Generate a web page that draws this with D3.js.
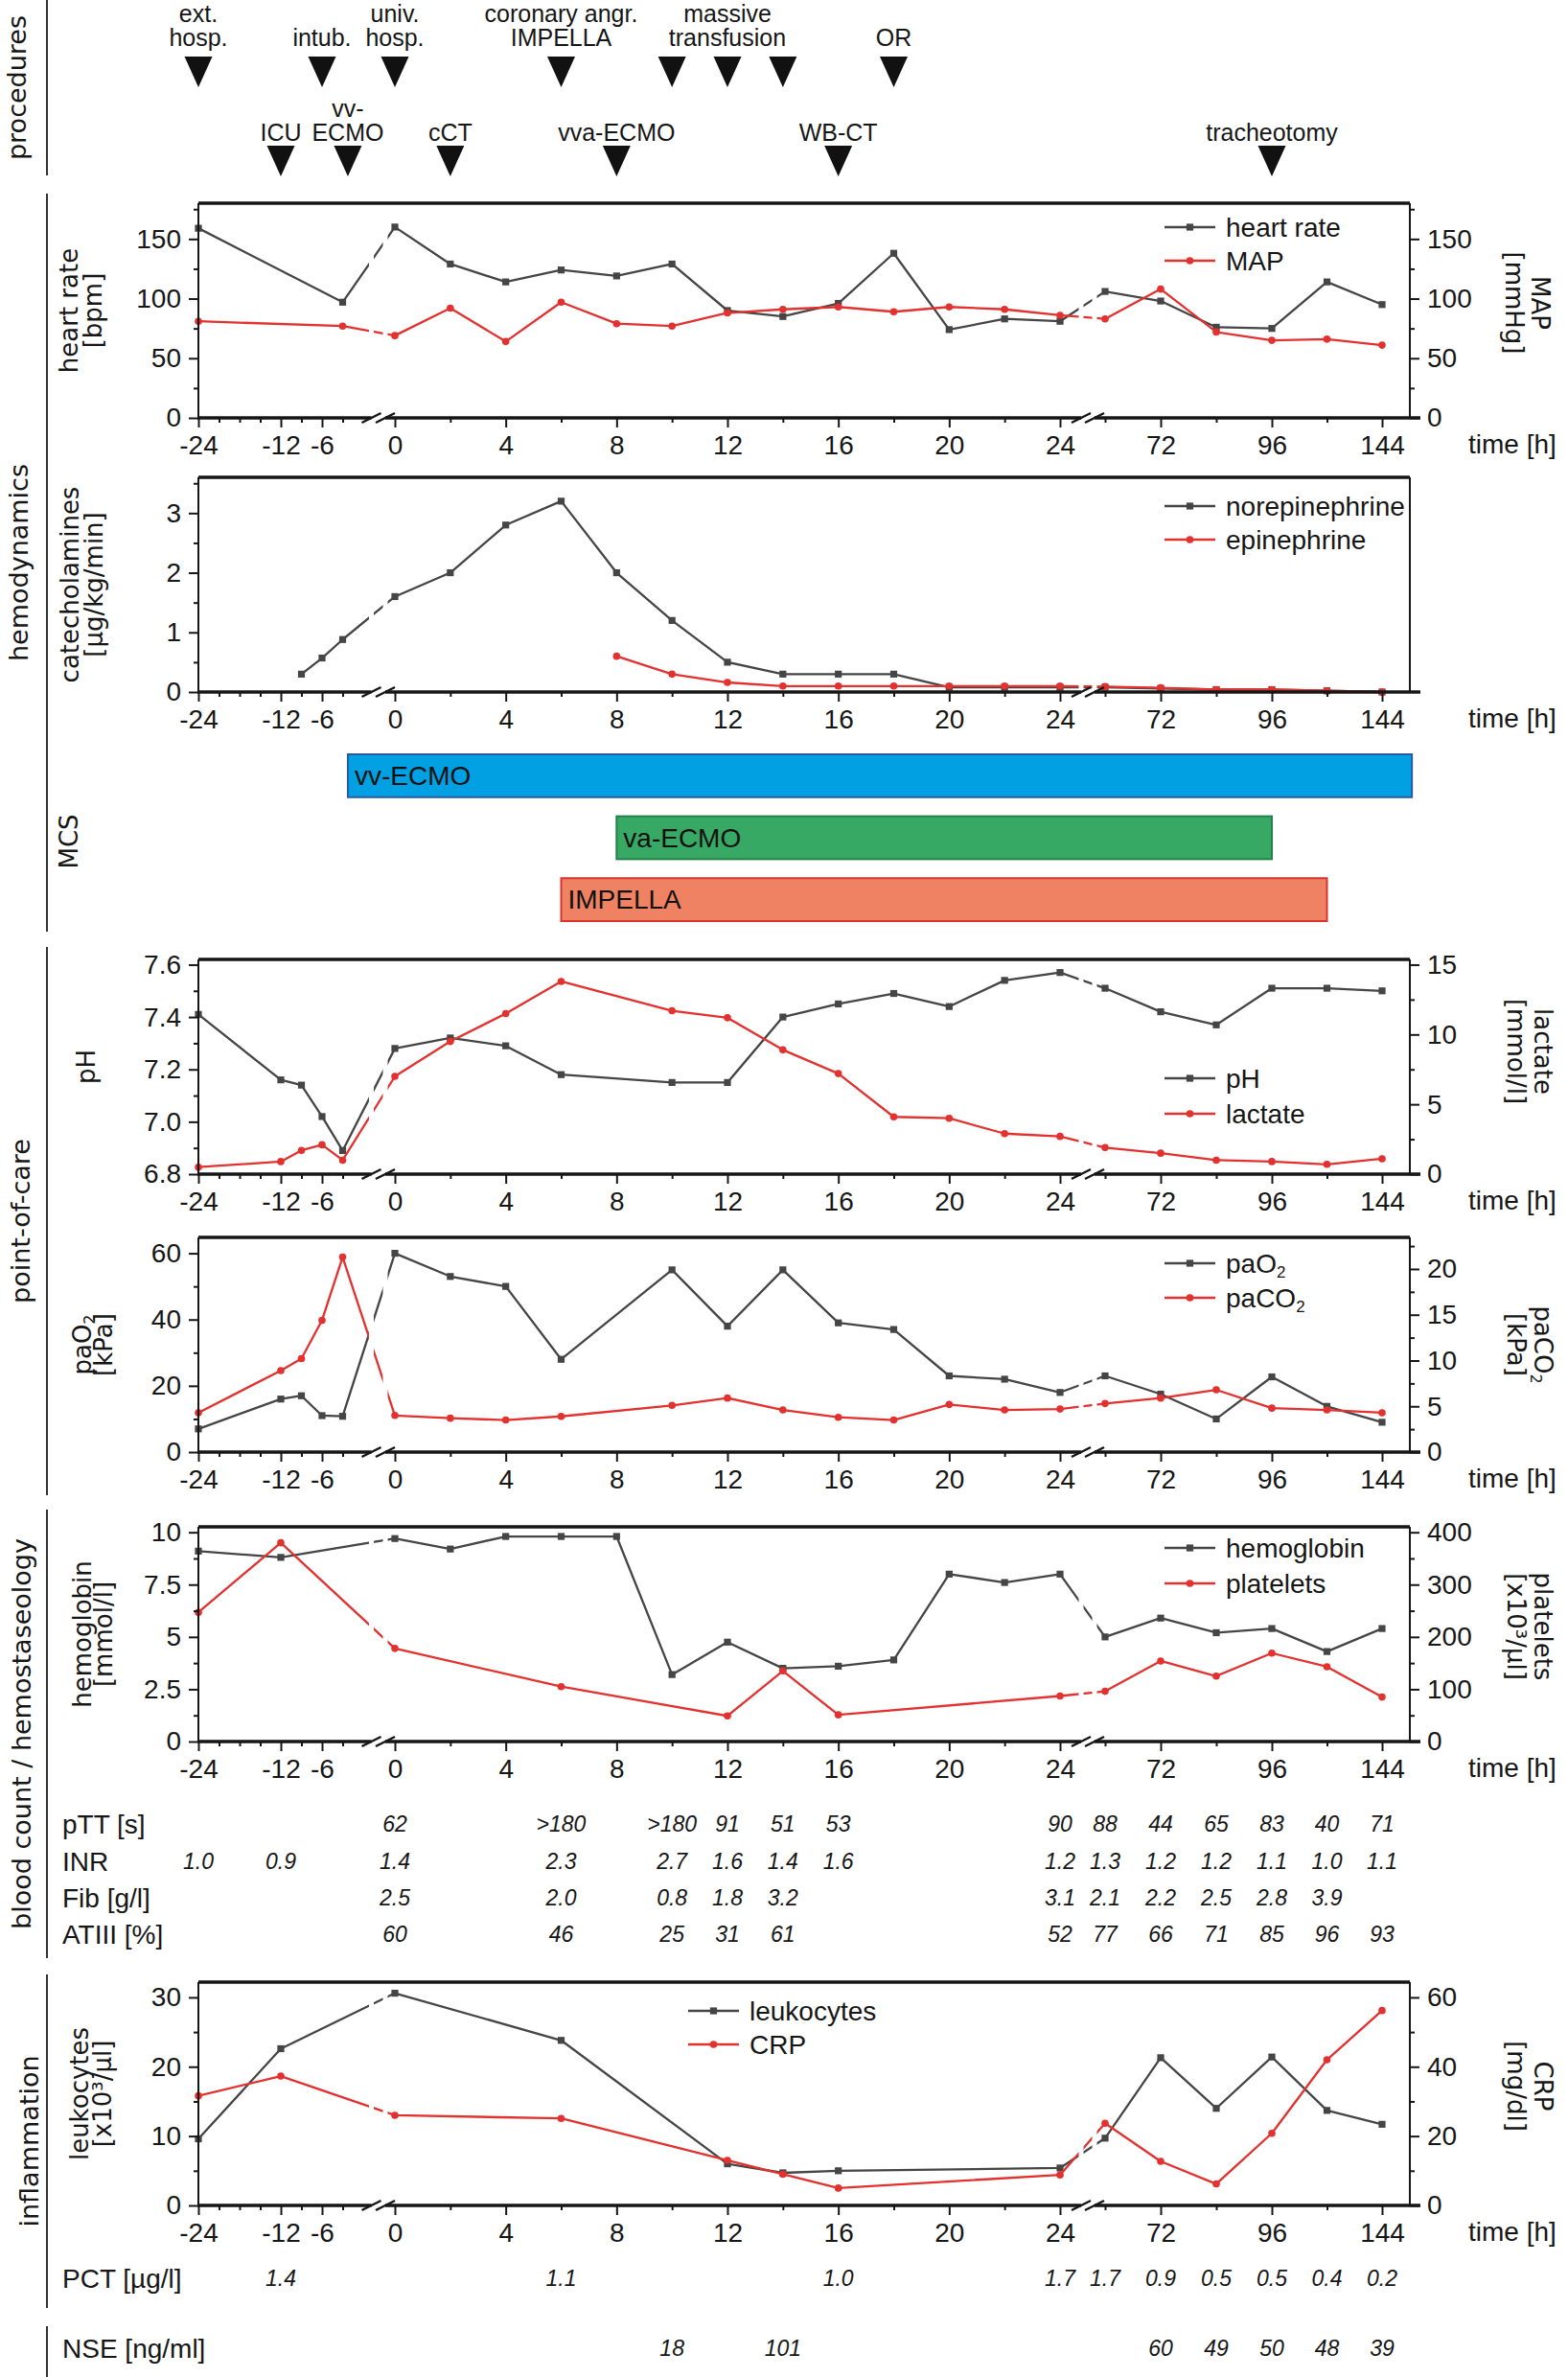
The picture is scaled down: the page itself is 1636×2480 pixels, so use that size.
<!DOCTYPE html>
<html><head><meta charset="utf-8">
<script src="https://cdn.jsdelivr.net/npm/d3@7"></script>
<style>body{margin:0;background:#fff}</style>
</head><body>
<svg id="chart" width="1636" height="2480" xmlns="http://www.w3.org/2000/svg"></svg>
<script>
// ---------------- DATA ----------------
// procedures
const procTopArrowTimes = [-24, -6, 0, 6, 10, 12, 14, 18];
const procTopLabelTimes = [-24, -6, 0, 6, 12, 18];
const procTopLabels = [["ext.", "hosp."], ["intub."], ["univ.", "hosp."], ["coronary angr.", "IMPELLA"], ["massive", "transfusion"], ["OR"]];
const procBotTimes = [-12, -2.7, 2, 8, 16, 96];
const procBotLabels = [["ICU"], ["vv-", "ECMO"], ["cCT"], ["vva-ECMO"], ["WB-CT"], ["tracheotomy"]];

// hemodynamics
const hrTimes = [-24, -3, 0, 2, 4, 6, 8, 10, 12, 14, 16, 18, 20, 22, 24, 48, 72, 84, 96, 120, 144];
const heartRate = [159, 97, 160, 129, 114, 124, 119, 129, 90, 85, 96, 138, 74, 83, 81, 106, 98, 76, 75, 114, 95];
const mapValues = [81, 77, 69, 92, 64, 97, 79, 77, 88, 91, 93, 89, 93, 91, 86, 83, 108, 72, 65, 66, 61];

const catTimes = [-9, -6, -3, 0, 2, 4, 6, 8, 10, 12, 14, 16, 18, 20, 22, 24, 48, 72, 84, 96, 120, 144];
const norepinephrine = [0.3, 0.57, 0.88, 1.6, 2.0, 2.8, 3.2, 2.0, 1.2, 0.5, 0.3, 0.3, 0.3, 0.08, 0.08, 0.08, 0.08, 0.06, 0.04, 0.04, 0.02, 0.0];
const epinephrine = [null, null, null, null, null, null, null, 0.6, 0.3, 0.16, 0.1, 0.1, 0.1, 0.1, 0.1, 0.1, 0.09, 0.07, 0.04, 0.04, 0.02, 0.0];

// MCS
const mcsNames = ["vv-ECMO", "va-ECMO", "IMPELLA"];
const mcsStart = [-2.7, 8, 6];
const mcsEnd = [157, 96, 120];

// point-of-care
const pocTimes = [-24, -12, -9, -6, -3, 0, 2, 4, 6, 10, 12, 14, 16, 18, 20, 22, 24, 48, 72, 84, 96, 120, 144];
const pH = [7.41, 7.16, 7.14, 7.02, 6.89, 7.28, 7.32, 7.29, 7.18, 7.15, 7.15, 7.40, 7.45, 7.49, 7.44, 7.54, 7.57, 7.51, 7.42, 7.37, 7.51, 7.51, 7.50];
const lactate = [0.5, 0.9, 1.7, 2.1, 1.0, 7.0, 9.5, 11.5, 13.8, 11.7, 11.2, 8.9, 7.2, 4.1, 4.0, 2.9, 2.7, 1.9, 1.5, 1.0, 0.9, 0.7, 1.1];
const paO2 = [7, 16, 17, 11, 10.8, 60, 53, 50, 28, 55, 38, 55, 39, 37, 23, 22, 18, 23, 17.5, 10, 22.7, 13.8, 9];
const paCO2 = [4.3, 8.9, 10.2, 14.4, 21.3, 4.0, 3.7, 3.5, 3.9, 5.1, 5.9, 4.6, 3.8, 3.5, 5.2, 4.6, 4.7, 5.3, 5.9, 6.8, 4.8, 4.6, 4.3];

// blood count
const hbTimes = [-24, -12, 0, 2, 4, 6, 8, 10, 12, 14, 16, 18, 20, 22, 24, 48, 72, 84, 96, 120, 144];
const hemoglobin = [9.1, 8.8, 9.7, 9.2, 9.8, 9.8, 9.8, 3.2, 4.75, 3.5, 3.6, 3.9, 8.0, 7.6, 8.0, 5.0, 5.9, 5.2, 5.4, 4.3, 5.4];
const pltTimes = [-24, -12, 0, 6, 12, 14, 16, 24, 48, 72, 84, 96, 120, 144];
const platelets = [247, 380, 178, 105, 49, 135, 51, 87, 96, 154, 125, 169, 143, 85];

const pttTimes = [0, 6, 10, 12, 14, 16, 24, 48, 72, 84, 96, 120, 144];
const pttValues = ["62", ">180", ">180", "91", "51", "53", "90", "88", "44", "65", "83", "40", "71"];
const inrTimes = [-24, -12, 0, 6, 10, 12, 14, 16, 24, 48, 72, 84, 96, 120, 144];
const inrValues = [1.0, 0.9, 1.4, 2.3, 2.7, 1.6, 1.4, 1.6, 1.2, 1.3, 1.2, 1.2, 1.1, 1.0, 1.1];
const fibTimes = [0, 6, 10, 12, 14, 24, 48, 72, 84, 96, 120];
const fibValues = [2.5, 2.0, 0.8, 1.8, 3.2, 3.1, 2.1, 2.2, 2.5, 2.8, 3.9];
const at3Times = [0, 6, 10, 12, 14, 24, 48, 72, 84, 96, 120, 144];
const at3Values = [60, 46, 25, 31, 61, 52, 77, 66, 71, 85, 96, 93];

// inflammation
const infTimes = [-24, -12, 0, 6, 12, 14, 16, 24, 48, 72, 84, 96, 120, 144];
const leukocytes = [9.6, 22.6, 30.6, 23.8, 6.0, 4.7, 5.0, 5.4, 9.7, 21.3, 14.0, 21.4, 13.7, 11.7];
const crp = [31.6, 37.3, 26.0, 25.1, 13.0, 9.0, 5.0, 8.8, 23.7, 12.7, 6.2, 20.8, 42.0, 56.2];
const pctTimes = [-12, 6, 16, 24, 48, 72, 84, 96, 120, 144];
const pctValues = [1.4, 1.1, 1.0, 1.7, 1.7, 0.9, 0.5, 0.5, 0.4, 0.2];
const nseTimes = [10, 14, 72, 84, 96, 120, 144];
const nseValues = [18, 101, 60, 49, 50, 48, 39];

// axis ticks
const xMajorTicks = [-24, -12, -6, 0, 4, 8, 12, 16, 20, 24, 72, 96, 144];
const xMinorTicks = [-21, -18, -15, -9, -3, 2, 6, 10, 14, 18, 22, 48, 84, 120];

// ---------------- STYLE / LAYOUT ----------------
const F_NUM = "'Liberation Sans', Arial, sans-serif";
const F_TITLE = "'DejaVu Sans', 'Noto Sans', sans-serif";
const INK = "#161616";
const BLACK = "#454545", RED = "#e2312e";
const X0 = 207, XR = 1471, XEND = 1482;
const FS = 28;

const svg = d3.select("#chart");
svg.append("rect").attr("width", 1636).attr("height", 2480).attr("fill", "#fff");

// piecewise (broken) time axis
const x = d3.scaleLinear()
  .domain([-24, -3, 0, 24, 48, 72, 84, 96, 120, 144])
  .range([207, 357.5, 412, 1106, 1153, 1211, 1269, 1327, 1384.5, 1442]);
const breakCenters = [[387.5, 402], [1128, 1142]];

function fmtAuto(d) { return String(d); }

function vTitle(g, lines, xs, yc, rot) {
  lines.forEach((ln, i) => {
    const t = g.append("text")
      .attr("transform", `translate(${xs[i]},${yc}) rotate(${rot})`)
      .attr("text-anchor", "middle").attr("dominant-baseline", "central")
      .attr("font-family", F_TITLE).attr("font-size", 26).attr("fill", INK);
    if (Array.isArray(ln)) {
      ln.forEach(part => {
        const ts = t.append("tspan").text(part.t);
        if (part.sub) ts.attr("font-size", 16).attr("dy", 7);
      });
    } else t.text(ln);
  });
}

function marker(g, s, cx, cy) {
  if (s.color === BLACK) {
    g.append("rect").attr("x", cx - 3.6).attr("y", cy - 3.6).attr("width", 7.2).attr("height", 7.2).attr("fill", BLACK);
  } else {
    g.append("circle").attr("cx", cx).attr("cy", cy).attr("r", 3.8).attr("fill", RED);
  }
}

function styleAxis(sel, fs) {
  sel.select(".domain").remove();
  sel.selectAll("text").attr("font-size", fs).attr("font-family", F_NUM).attr("fill", INK);
  sel.selectAll("line").attr("stroke", INK).attr("stroke-width", 2);
}

function drawPanel(p) {
  const g = svg.append("g");
  const yL = d3.scaleLinear().domain(p.yL).range([p.bottom, p.top]);
  const yR = p.yR ? d3.scaleLinear().domain(p.yR).range([p.bottom, p.top]) : null;

  p.series.forEach(s => {
    const sc = s.right ? yR : yL;
    const pts = s.times.map((t, i) => [t, s.values[i]]).filter(d => d[1] != null);
    const line = d3.line().x(d => x(d[0])).y(d => sc(d[1]));
    g.append("path").attr("d", line(pts)).attr("fill", "none")
      .attr("stroke", s.color).attr("stroke-width", 2.3).attr("stroke-linejoin", "round");
    pts.forEach(d => marker(g, s, x(d[0]), sc(d[1])));
  });

  // axis-break gaps through the lines
  breakCenters.forEach(b => b.forEach(cx => {
    g.append("rect").attr("x", cx - 2.5).attr("y", p.top + 3).attr("width", 5)
      .attr("height", p.bottom - p.top - 5).attr("fill", "#fff");
  }));

  // frame
  g.append("line").attr("x1", X0).attr("x2", XR).attr("y1", p.top).attr("y2", p.top).attr("stroke", INK).attr("stroke-width", 3.5);
  g.append("line").attr("x1", X0).attr("x2", X0).attr("y1", p.top).attr("y2", p.bottom).attr("stroke", INK).attr("stroke-width", 2);
  g.append("line").attr("x1", XR).attr("x2", XR).attr("y1", p.top).attr("y2", p.bottom).attr("stroke", INK).attr("stroke-width", 2);

  // left axis
  const fmtL = p.fmtL || fmtAuto;
  g.append("g").attr("transform", `translate(${X0},0)`)
    .call(d3.axisLeft(yL).tickValues(p.ticksL).tickSize(10).tickPadding(8).tickFormat(fmtL))
    .call(s => styleAxis(s, FS));
  g.append("g").attr("transform", `translate(${X0},0)`)
    .call(d3.axisLeft(yL).tickValues(p.minorL).tickSize(5).tickFormat(""))
    .call(s => styleAxis(s, FS));
  if (yR) {
    g.append("g").attr("transform", `translate(${XR},0)`)
      .call(d3.axisRight(yR).tickValues(p.ticksR).tickSize(10).tickPadding(8).tickFormat(p.fmtR || fmtAuto))
      .call(s => styleAxis(s, FS));
    g.append("g").attr("transform", `translate(${XR},0)`)
      .call(d3.axisRight(yR).tickValues(p.minorR).tickSize(5).tickFormat(""))
      .call(s => styleAxis(s, FS));
  }

  // bottom axis
  g.append("g").attr("transform", `translate(0,${p.bottom})`)
    .call(d3.axisBottom(x).tickValues(xMajorTicks).tickSize(10).tickPadding(8).tickFormat(d => String(d)))
    .call(s => styleAxis(s, FS));
  g.append("g").attr("transform", `translate(0,${p.bottom})`)
    .call(d3.axisBottom(x).tickValues(xMinorTicks).tickSize(5).tickFormat(""))
    .call(s => styleAxis(s, FS));
  g.append("line").attr("x1", X0 - 1).attr("x2", XEND).attr("y1", p.bottom).attr("y2", p.bottom)
    .attr("stroke", INK).attr("stroke-width", 3.5);
  breakCenters.forEach(b => {
    g.append("rect").attr("x", b[0]).attr("y", p.bottom - 3).attr("width", b[1] - b[0]).attr("height", 6).attr("fill", "#fff");
    b.forEach(cx => g.append("line").attr("x1", cx - 10).attr("y1", p.bottom + 5).attr("x2", cx + 10).attr("y2", p.bottom - 5)
      .attr("stroke", INK).attr("stroke-width", 2.5));
  });
  g.append("text").attr("x", 1532).attr("y", p.bottom + 37).text("time [h]")
    .attr("font-family", F_NUM).attr("font-size", FS).attr("fill", INK);

  // titles
  const yc = (p.top + p.bottom) / 2;
  vTitle(g, p.titleL, p.titleLx, yc, -90);
  if (p.titleR) vTitle(g, p.titleR, p.titleRx, yc + (p.titleRdy || 0), 90);

  // legend
  p.series.forEach((s, i) => {
    const ly = p.legendY[i], lx = p.legendX;
    g.append("line").attr("x1", lx).attr("x2", lx + 53).attr("y1", ly).attr("y2", ly).attr("stroke", s.color).attr("stroke-width", 2.5);
    marker(g, s, lx + 26.5, ly);
    const t = g.append("text").attr("x", lx + 64).attr("y", ly).attr("dominant-baseline", "central")
      .attr("font-family", F_NUM).attr("font-size", FS).attr("fill", INK);
    if (Array.isArray(s.name)) {
      s.name.forEach(part => { const ts = t.append("tspan").text(part.t); if (part.sub) ts.attr("font-size", 17).attr("dy", 9); });
    } else t.text(s.name);
  });
}

// ---------------- GROUP LABELS ----------------
const groups = [
  { name: "procedures", y0: 0, y1: 183, lx: 17 },
  { name: "hemodynamics", y0: 202, y1: 972, lx: 19 },
  { name: "point-of-care", y0: 988, y1: 1560, lx: 21 },
  { name: "blood count / hemostaseology", y0: 1575, y1: 2043, lx: 22 },
  { name: "inflammation", y0: 2060, y1: 2408, lx: 30 },
  { name: "", y0: 2427, y1: 2480, lx: 0 }
];
groups.forEach(gr => {
  svg.append("line").attr("x1", 49).attr("x2", 49).attr("y1", gr.y0).attr("y2", gr.y1).attr("stroke", "#333").attr("stroke-width", 2);
  if (gr.name) svg.append("text").attr("transform", `translate(${gr.lx},${(gr.y0 + gr.y1) / 2}) rotate(-90)`)
    .attr("text-anchor", "middle").attr("dominant-baseline", "central")
    .attr("font-family", F_TITLE).attr("font-size", 27).attr("fill", INK).text(gr.name);
});

// ---------------- PROCEDURES ----------------
function tri(xc, y0, y1) {
  return `M${xc - 14.5},${y0}L${xc + 14.5},${y0}L${xc},${y1}Z`;
}
procTopArrowTimes.forEach(t => svg.append("path").attr("d", tri(x(t), 59, 91)).attr("fill", "#111"));
procBotTimes.forEach(t => svg.append("path").attr("d", tri(x(t), 152, 184)).attr("fill", "#111"));
function procLabel(lines, t, lastBase) {
  lines.forEach((ln, i) => {
    svg.append("text").attr("x", x(t)).attr("y", lastBase - (lines.length - 1 - i) * 25)
      .attr("text-anchor", "middle").attr("font-family", F_NUM).attr("font-size", 25).attr("fill", INK).text(ln);
  });
}
procTopLabels.forEach((l, i) => procLabel(l, procTopLabelTimes[i], 48));
procBotLabels.forEach((l, i) => procLabel(l, procBotTimes[i], 147));

// ---------------- PANELS ----------------
drawPanel({
  top: 212, bottom: 436, yL: [0, 180], yR: [0, 180],
  ticksL: [0, 50, 100, 150], minorL: [25, 75, 125, 175], ticksR: [0, 50, 100, 150], minorR: [25, 75, 125, 175],
  titleL: ["heart rate", "[bpm]"], titleLx: [72, 97], titleR: ["MAP", "[mmHg]"], titleRx: [1607, 1580], titleRdy: -8,
  legendX: 1215, legendY: [237, 272],
  series: [
    { name: "heart rate", times: hrTimes, values: heartRate, color: BLACK },
    { name: "MAP", times: hrTimes, values: mapValues, color: RED, right: true }
  ]
});

drawPanel({
  top: 498, bottom: 722, yL: [0, 3.6],
  ticksL: [0, 1, 2, 3], minorL: [0.5, 1.5, 2.5, 3.5],
  titleL: ["catecholamines", "[µg/kg/min]"], titleLx: [73, 98],
  legendX: 1215, legendY: [528, 563],
  series: [
    { name: "norepinephrine", times: catTimes, values: norepinephrine, color: BLACK },
    { name: "epinephrine", times: catTimes, values: epinephrine, color: RED }
  ]
});

// MCS bars
const mcsFill = ["#00a0e2", "#38a964", "#ef8262"];
const mcsStroke = ["#2a5aa0", "#23804a", "#d8332f"];
const yMcs = d3.scaleBand().domain(mcsNames).range([787, 961]).paddingInner(0.3077);
mcsNames.forEach((n, i) => {
  svg.append("rect").attr("x", x(mcsStart[i])).attr("y", yMcs(n)).attr("width", x(mcsEnd[i]) - x(mcsStart[i]))
    .attr("height", yMcs.bandwidth()).attr("fill", mcsFill[i]).attr("stroke", mcsStroke[i]).attr("stroke-width", 2);
  svg.append("text").attr("x", x(mcsStart[i]) + 7).attr("y", yMcs(n) + yMcs.bandwidth() / 2).attr("dominant-baseline", "central")
    .attr("font-family", F_NUM).attr("font-size", FS).attr("fill", "#111").text(n);
});
svg.append("text").attr("transform", "translate(72,878) rotate(-90)").attr("text-anchor", "middle").attr("dominant-baseline", "central")
  .attr("font-family", F_TITLE).attr("font-size", 26).attr("fill", INK).text("MCS");

drawPanel({
  top: 1001, bottom: 1225, yL: [6.8, 7.62], yR: [0, 15.375],
  ticksL: [6.8, 7.0, 7.2, 7.4, 7.6], minorL: [6.9, 7.1, 7.3, 7.5], fmtL: d3.format(".1f"),
  ticksR: [0, 5, 10, 15], minorR: [2.5, 7.5, 12.5],
  titleL: ["pH"], titleLx: [90], titleR: ["lactate", "[mmol/l]"], titleRx: [1610, 1582], titleRdy: -16,
  legendX: 1215, legendY: [1125, 1162],
  series: [
    { name: "pH", times: pocTimes, values: pH, color: BLACK },
    { name: "lactate", times: pocTimes, values: lactate, color: RED, right: true }
  ]
});

drawPanel({
  top: 1291, bottom: 1515, yL: [0, 64.8], yR: [0, 23.45],
  ticksL: [0, 20, 40, 60], minorL: [10, 30, 50],
  ticksR: [0, 5, 10, 15, 20], minorR: [2.5, 7.5, 12.5, 17.5, 22.5],
  titleL: [[{ t: "paO" }, { t: "2", sub: true }], "[kPa]"], titleLx: [86, 108],
  titleR: [[{ t: "paCO" }, { t: "2", sub: true }], "[kPa]"], titleRx: [1610, 1582],
  legendX: 1215, legendY: [1318, 1354],
  series: [
    { name: [{ t: "paO" }, { t: "2", sub: true }], times: pocTimes, values: paO2, color: BLACK },
    { name: [{ t: "paCO" }, { t: "2", sub: true }], times: pocTimes, values: paCO2, color: RED, right: true }
  ]
});

drawPanel({
  top: 1593, bottom: 1817, yL: [0, 10.26], yR: [0, 410.4],
  ticksL: [0, 2.5, 5, 7.5, 10], minorL: [1.25, 3.75, 6.25, 8.75],
  ticksR: [0, 100, 200, 300, 400], minorR: [50, 150, 250, 350],
  titleL: ["hemoglobin", "[mmol/l]"], titleLx: [86, 108], titleR: ["platelets", "[x10³/µl]"], titleRx: [1610, 1582], titleRdy: -8,
  legendX: 1215, legendY: [1615, 1652],
  series: [
    { name: "hemoglobin", times: hbTimes, values: hemoglobin, color: BLACK },
    { name: "platelets", times: pltTimes, values: platelets, color: RED, right: true }
  ]
});

// coagulation table
function tableRow(label, y, times, vals, fmt) {
  svg.append("text").attr("x", 65).attr("y", y).attr("dominant-baseline", "central")
    .attr("font-family", F_NUM).attr("font-size", 28).attr("fill", INK).text(label);
  times.forEach((t, i) => svg.append("text").attr("x", x(t)).attr("y", y).attr("text-anchor", "middle")
    .attr("dominant-baseline", "central").attr("font-family", F_NUM).attr("font-style", "italic")
    .attr("font-size", 23).attr("fill", INK).text(fmt ? fmt(vals[i]) : vals[i]));
}
const f1 = d3.format(".1f");
tableRow("pTT [s]", 1903, pttTimes, pttValues);
tableRow("INR", 1942, inrTimes, inrValues, f1);
tableRow("Fib [g/l]", 1980, fibTimes, fibValues, f1);
tableRow("ATIII [%]", 2018, at3Times, at3Values);

drawPanel({
  top: 2068, bottom: 2301, yL: [0, 32.2], yR: [0, 64.4],
  ticksL: [0, 10, 20, 30], minorL: [5, 15, 25],
  ticksR: [0, 20, 40, 60], minorR: [10, 30, 50],
  titleL: ["leukocytes", "[x10³/µl]"], titleLx: [83, 107], titleR: ["CRP", "[mg/dl]"], titleRx: [1610, 1582], titleRdy: -8,
  legendX: 718, legendY: [2098, 2133],
  series: [
    { name: "leukocytes", times: infTimes, values: leukocytes, color: BLACK },
    { name: "CRP", times: infTimes, values: crp, color: RED, right: true }
  ]
});

tableRow("PCT [µg/l]", 2377, pctTimes, pctValues, f1);
tableRow("NSE [ng/ml]", 2450, nseTimes, nseValues);
</script>
</body></html>
